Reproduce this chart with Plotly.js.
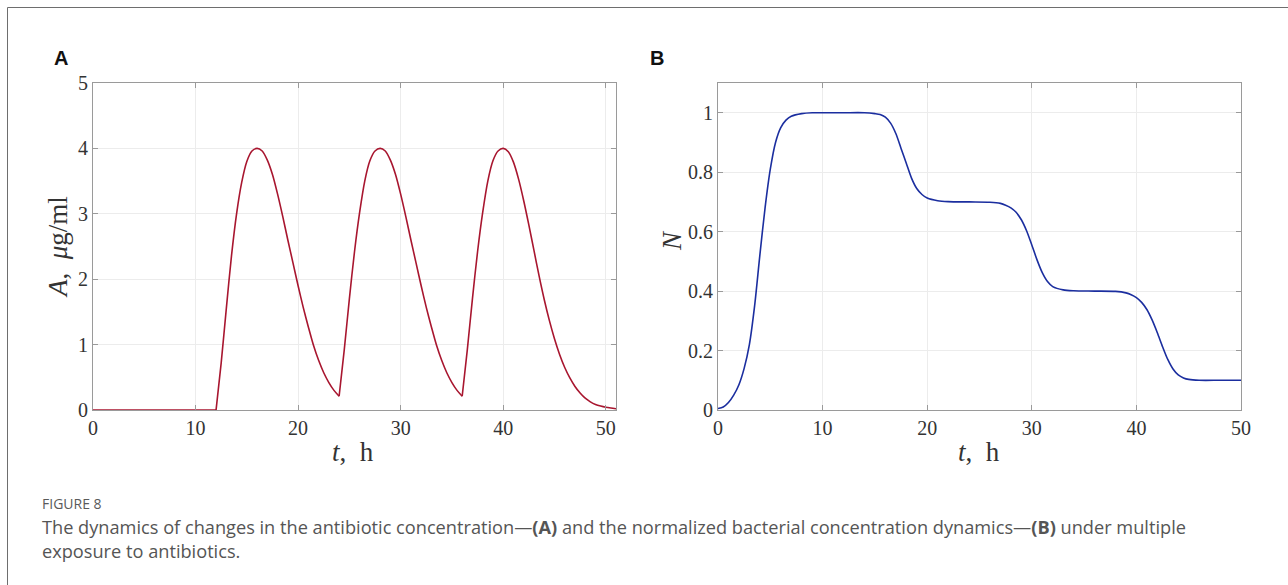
<!DOCTYPE html>
<html>
<head>
<meta charset="utf-8">
<script src="https://cdn.plot.ly/plotly-3.0.1.min.js"></script>
<style>
html,body{margin:0;padding:0;background:#fff;}
#chart{width:1288px;height:585px;}
</style>
</head>
<body>
<div id="chart"></div>
<script>
// Panel A: antibiotic concentration A (μg/ml) vs t (h); segments split at dosing times
const tA_seg0 = [0, 12];
const A_seg0  = [0, 0];
const tA_seg1 = [12, 12.5, 13, 13.5, 14, 14.5, 15, 15.5, 16, 16.5, 17, 17.5, 18, 18.5, 19, 19.5, 20, 20.5, 21, 21.5, 22, 22.5, 23, 23.5, 24];
const A_seg1  = [0, 0.72, 1.55, 2.35, 3.0, 3.48, 3.8, 3.96, 4.0, 3.96, 3.82, 3.6, 3.3, 2.96, 2.6, 2.25, 1.9, 1.57, 1.27, 0.99, 0.76, 0.57, 0.42, 0.3, 0.21];
const tA_seg2 = [24, 24.5, 25, 25.5, 26, 26.5, 27, 27.5, 28, 28.5, 29, 29.5, 30, 30.5, 31, 31.5, 32, 32.5, 33, 33.5, 34, 34.5, 35, 35.5, 36];
const A_seg2  = [0.21, 0.92, 1.7, 2.42, 3.02, 3.5, 3.81, 3.96, 4.0, 3.96, 3.82, 3.6, 3.3, 2.96, 2.6, 2.25, 1.9, 1.57, 1.27, 0.99, 0.76, 0.57, 0.42, 0.3, 0.21];
const tA_seg3 = [36, 36.5, 37, 37.5, 38, 38.5, 39, 39.5, 40, 40.5, 41, 41.5, 42, 42.5, 43, 43.5, 44, 44.5, 45, 45.5, 46, 46.5, 47, 47.5, 48, 48.5, 49, 49.5, 50, 50.5, 51];
const A_seg3  = [0.21, 0.92, 1.7, 2.42, 3.02, 3.5, 3.81, 3.96, 4.0, 3.95, 3.79, 3.53, 3.2, 2.83, 2.44, 2.05, 1.69, 1.37, 1.09, 0.85, 0.65, 0.49, 0.36, 0.26, 0.18, 0.125, 0.085, 0.06, 0.042, 0.03, 0.02];

// Panel B: normalized bacterial concentration N vs t (h)
const tB = [0, 0.5, 1, 1.5, 2, 2.5, 3, 3.5, 4, 4.5, 5, 5.5, 6, 6.5, 7, 8, 9, 10, 12, 14, 15, 15.5, 16, 16.5, 17, 17.5, 18, 18.5, 19, 19.5, 20, 21, 22, 24, 26, 27, 27.5, 28, 28.5, 29, 29.5, 30, 30.5, 31, 31.5, 32, 33, 34, 36, 38, 39, 39.5, 40, 40.5, 41, 41.5, 42, 42.5, 43, 43.5, 44, 44.5, 45, 46, 48, 50];
const NB = [0.005, 0.01, 0.025, 0.05, 0.085, 0.14, 0.22, 0.35, 0.52, 0.68, 0.81, 0.9, 0.95, 0.975, 0.988, 0.997, 1.0, 1.0, 1.0, 1.0, 0.997, 0.994, 0.985, 0.965, 0.93, 0.88, 0.83, 0.78, 0.745, 0.725, 0.713, 0.704, 0.701, 0.7, 0.699, 0.695, 0.689, 0.68, 0.665, 0.64, 0.603, 0.555, 0.505, 0.462, 0.432, 0.415, 0.404, 0.401, 0.4, 0.399, 0.394, 0.388, 0.378, 0.362, 0.338, 0.303, 0.26, 0.213, 0.17, 0.138, 0.118, 0.108, 0.103, 0.1, 0.1, 0.1];

const xTicksA = [0, 10, 20, 30, 40, 50];
const yTicksA = [0, 1, 2, 3, 4, 5];
const xTicksB = [0, 10, 20, 30, 40, 50];
const yTicksB = [0, 0.2, 0.4, 0.6, 0.8, 1];
const yTickTextB = ['0', '0.2', '0.4', '0.6', '0.8', '1'];

const redCol = '#a8162f';
const blueCol = '#1b2e9f';
const W = 1288, H = 585;
const px = v => v / W;
const py = v => 1 - v / H;

const segsA = [[tA_seg0, A_seg0], [tA_seg1, A_seg1], [tA_seg2, A_seg2], [tA_seg3, A_seg3]];
const traces = segsA.map(s => ({
  x: s[0], y: s[1], xaxis: 'x', yaxis: 'y', type: 'scatter', mode: 'lines',
  line: {color: redCol, width: 1.6, shape: 'spline', smoothing: 0.8}, hoverinfo: 'skip', showlegend: false
}));
traces.push({
  x: tB, y: NB, xaxis: 'x2', yaxis: 'y2', type: 'scatter', mode: 'lines',
  line: {color: blueCol, width: 1.6, shape: 'spline', smoothing: 0.8}, hoverinfo: 'skip', showlegend: false
});

const serif = 'Liberation Serif, Times New Roman, serif';
const tickFont = {family: serif, size: 20, color: '#333'};
const axBase = {
  showline: true, linecolor: '#9a9a9a', linewidth: 1, mirror: 'ticks',
  ticks: 'inside', ticklen: 5, tickcolor: '#9a9a9a', tickwidth: 1,
  showgrid: true, gridcolor: '#ececec', gridwidth: 1, zeroline: false,
  tickfont: tickFont, automargin: false, fixedrange: true
};

const layout = {
  width: W, height: H,
  margin: {l: 0, r: 0, t: 0, b: 0},
  paper_bgcolor: '#fff', plot_bgcolor: '#fff',
  showlegend: false,
  xaxis: Object.assign({}, axBase, {domain: [px(93), px(616)], range: [0, 51], tickvals: xTicksA, anchor: 'y'}),
  yaxis: Object.assign({}, axBase, {domain: [py(410), py(83)], range: [0, 5], tickvals: yTicksA, anchor: 'x'}),
  xaxis2: Object.assign({}, axBase, {domain: [px(718), px(1241)], range: [0, 50], tickvals: xTicksB, anchor: 'y2'}),
  yaxis2: Object.assign({}, axBase, {domain: [py(410), py(83)], range: [0, 1.1], tickvals: yTicksB, ticktext: yTickTextB, anchor: 'x2'}),
  shapes: [
    {type: 'line', xref: 'paper', yref: 'paper', x0: px(7.5), x1: 1, y0: py(7.5), y1: py(7.5), line: {color: '#6e6e6e', width: 1}},
    {type: 'line', xref: 'paper', yref: 'paper', x0: px(7.5), x1: px(7.5), y0: py(7.5), y1: 0, line: {color: '#6e6e6e', width: 1}}
  ],
  annotations: [
    {text: '<b>A</b>', xref: 'paper', yref: 'paper', x: px(52), y: py(58), xanchor: 'left', yanchor: 'middle', showarrow: false,
     font: {family: 'Liberation Sans, Arial, sans-serif', size: 20, color: '#111'}},
    {text: '<b>B</b>', xref: 'paper', yref: 'paper', x: px(648), y: py(58), xanchor: 'left', yanchor: 'middle', showarrow: false,
     font: {family: 'Liberation Sans, Arial, sans-serif', size: 20, color: '#111'}},
    {text: '<i>A</i>,  <i>μ</i>g/ml', xref: 'paper', yref: 'paper', x: px(58), y: py(247), xanchor: 'center', yanchor: 'middle', textangle: -90, showarrow: false,
     font: {family: serif, size: 27, color: '#333'}},
    {text: '<i>N</i>', xref: 'paper', yref: 'paper', x: px(672), y: py(241), xanchor: 'center', yanchor: 'middle', textangle: -90, showarrow: false,
     font: {family: serif, size: 27, color: '#333'}},
    {text: '<i>t</i>,  h', xref: 'paper', yref: 'paper', x: px(353), y: py(452), xanchor: 'center', yanchor: 'middle', showarrow: false,
     font: {family: serif, size: 27, color: '#333'}},
    {text: '<i>t</i>,  h', xref: 'paper', yref: 'paper', x: px(979), y: py(452), xanchor: 'center', yanchor: 'middle', showarrow: false,
     font: {family: serif, size: 27, color: '#333'}},
    {text: 'FIGURE 8', xref: 'paper', yref: 'paper', x: px(40), y: py(503), xanchor: 'left', yanchor: 'middle', showarrow: false,
     font: {family: 'Open Sans, Noto Sans, sans-serif', size: 14, color: '#5a5a5a'}},
    {text: 'The dynamics of changes in the antibiotic concentration—<b>(A)</b> and the normalized bacterial concentration dynamics—<b>(B)</b> under multiple',
     xref: 'paper', yref: 'paper', x: px(40), y: py(527), xanchor: 'left', yanchor: 'middle', showarrow: false,
     font: {family: 'Open Sans, Noto Sans, sans-serif', size: 18.2, color: '#555'}},
    {text: 'exposure to antibiotics.',
     xref: 'paper', yref: 'paper', x: px(40), y: py(551), xanchor: 'left', yanchor: 'middle', showarrow: false,
     font: {family: 'Open Sans, Noto Sans, sans-serif', size: 18.2, color: '#555'}}
  ]
};

Plotly.newPlot('chart', traces, layout, {staticPlot: true, displayModeBar: false});
</script>
</body>
</html>
